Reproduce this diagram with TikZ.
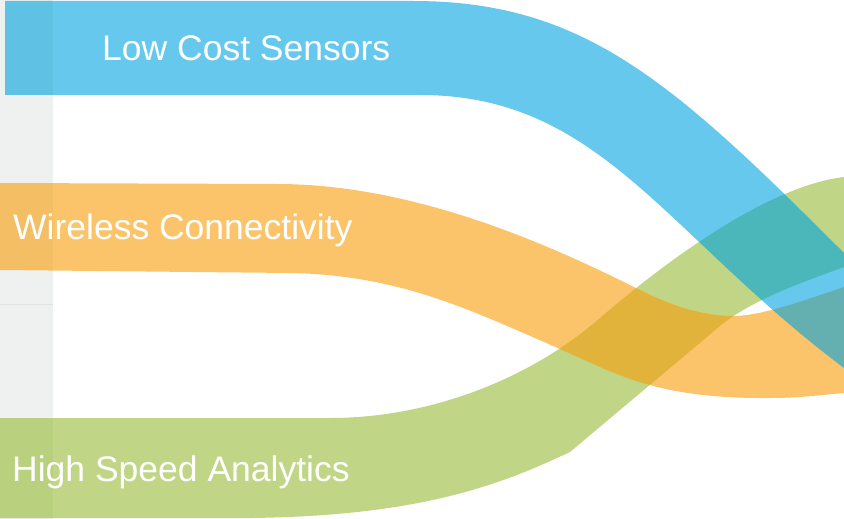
\documentclass[tikz,border=0pt]{standalone}
\usepackage{fontspec}
\setmainfont{Liberation Sans}
\definecolor{sensorblue}{RGB}{0,163,223}
\definecolor{wirelessorange}{RGB}{248,157,8}
\definecolor{analyticsgreen}{RGB}{150,187,53}
\definecolor{sidegray}{RGB}{239,241,240}
\begin{document}
\begin{tikzpicture}[x=1pt, y=-1pt,
    bandfill/.style={fill opacity=0.6},
    bandlabel/.style={anchor=base west, inner sep=0pt, text=white, font=\fontsize{35.5}{40}\selectfont}]
    \useasboundingbox (0,0) rectangle (844,519);

    \fill [sidegray] (0,0) rectangle (53,519);
    \draw [sidegray!94!black, line width=0.8pt] (0,304) -- (53,304);

    % green band
    \fill [analyticsgreen, bandfill] (0,418) -- (330,418) .. controls (430,418) and (530,379) .. (600,318)
        .. controls (680,249) and (775,185) .. (844,177) -- (844,267)
        .. controls (800,283) and (750,301) .. (720,326) -- (570,452)
        .. controls (500,485) and (420,516) .. (250,518) -- (0,518) -- cycle;
    % orange band
    \fill [wirelessorange, bandfill] (0,183) -- (277,184) .. controls (420,184) and (560,250) .. (640,290)
        .. controls (680,310) and (710,316) .. (733,316) .. controls (760,316) and (800,302) .. (844,287)
        -- (844,393) .. controls (820,395) and (800,398) .. (770,398)
        .. controls (660,399) and (620,376) .. (560,349) .. controls (470,310) and (400,275) .. (290,273)
        -- (0,270) -- cycle;
    % blue band
    \fill [sensorblue, bandfill] (5,1) -- (413,1) .. controls (584,1) and (673,82) .. (844,253)
        -- (844,368) .. controls (664,233) and (600,95) .. (420,95) -- (5,95) -- cycle;

    \node [bandlabel] (sensors) at (102,61) {Low Cost Sensors};
    \node [bandlabel] (wireless) at (13,239) {Wireless Connectivity};
    \node [bandlabel] (analytics) at (12,481) {High Speed Analytics};
\end{tikzpicture}
\end{document}
